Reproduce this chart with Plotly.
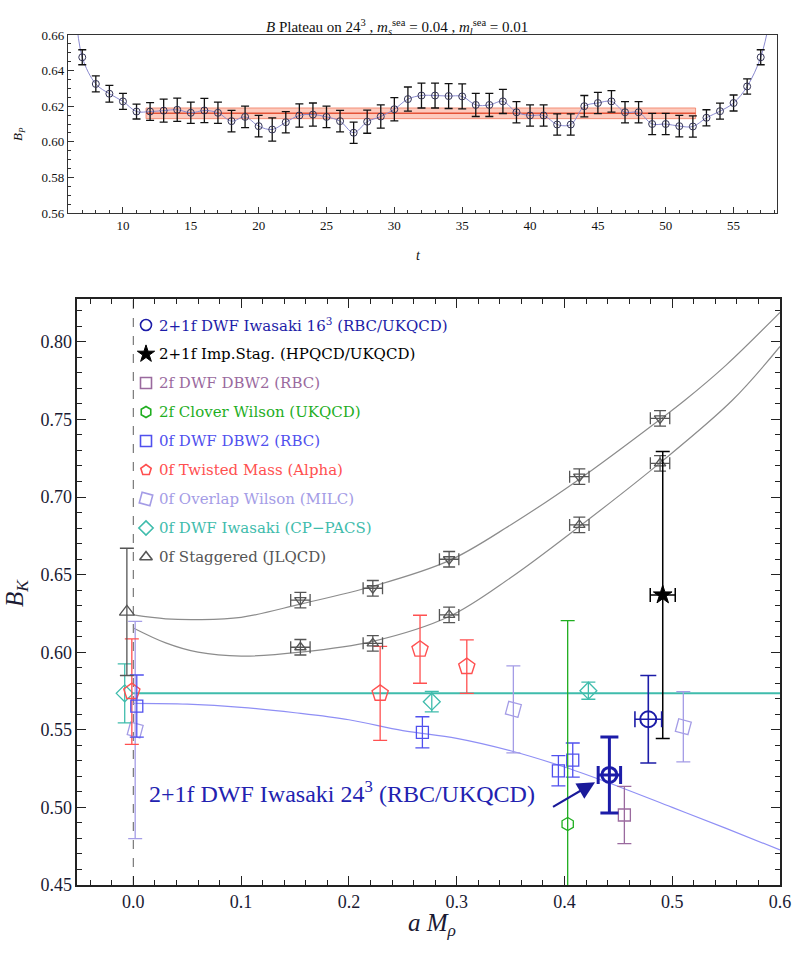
import plotly.graph_objects as go

W, H = 794, 963
SERIF = "Liberation Serif"

# ---------------- Top panel: B plateau ----------------
t_vals = list(range(7, 58))
bp_vals = [0.6475, 0.6325, 0.6270, 0.6227, 0.6170, 0.6170, 0.6175, 0.6180, 0.6163, 0.6176,
           0.6163, 0.6116, 0.6140, 0.6088, 0.6069, 0.6110, 0.6148, 0.6153, 0.6140, 0.6116,
           0.6051, 0.6113, 0.6142, 0.6183, 0.6240, 0.6260, 0.6260, 0.6257, 0.6255, 0.6207,
           0.6207, 0.6227, 0.6166, 0.6148, 0.6148, 0.6097, 0.6097, 0.6200, 0.6218, 0.6227,
           0.6166, 0.6166, 0.6100, 0.6100, 0.6088, 0.6086, 0.6135, 0.6172, 0.6218, 0.6311,
           0.6475]
bp_errs = [0.0042, 0.0045, 0.0047, 0.0045, 0.0042, 0.0050, 0.0065, 0.0065, 0.0060, 0.0068,
           0.0060, 0.0060, 0.0060, 0.0060, 0.0065, 0.0060, 0.0065, 0.0065, 0.0060, 0.0060,
           0.0060, 0.0065, 0.0065, 0.0065, 0.0068, 0.0070, 0.0070, 0.0070, 0.0070, 0.0065,
           0.0065, 0.0068, 0.0060, 0.0060, 0.0060, 0.0060, 0.0060, 0.0060, 0.0060, 0.0060,
           0.0060, 0.0060, 0.0060, 0.0060, 0.0060, 0.0060, 0.0045, 0.0045, 0.0045, 0.0043,
           0.0042]
curve_t = [6.5] + t_vals + [57.7]
curve_bp = [0.675] + bp_vals + [0.670]
plateau_t = [11.7, 52.2]
plateau_val = 0.6160
plateau_err = 0.0030

# ---------------- Bottom panel: B_K vs a M_rho ----------------
dwf16_x, dwf16_y, dwf16_ey, dwf16_ex = [0.4778], [0.5568], [0.0282], [0.0124]
dwf24_x, dwf24_y, dwf24_ey, dwf24_ex = [0.4417], [0.5209], [0.0245], [0.0104]
hpqcd_x, hpqcd_y, hpqcd_ey, hpqcd_ex = [0.4912], [0.6369], [0.0925], [0.0116]
dbw2f2_x, dbw2f2_y, dbw2f2_ey = [0.4556], [0.4951], [0.0185]
clover_x, clover_y, clover_ey = [0.4030], [0.4893], [0.1310]
dbw2f0_x = [0.0032, 0.2682, 0.3944, 0.4077]
dbw2f0_y = [0.5653, 0.5484, 0.5236, 0.5305]
dbw2f0_ey = [0.0200, 0.0100, 0.0097, 0.0110]
tm_x = [-0.0014, 0.2290, 0.2660, 0.3094]
tm_y = [0.5746, 0.5735, 0.6019, 0.5907]
tm_ey = [0.0340, 0.0303, 0.0219, 0.0172]
ov_x = [0.0017, 0.3526, 0.5103]
ov_y = [0.5499, 0.5632, 0.5520]
ov_ey = [0.0700, 0.0280, 0.0226]
cp_x = [-0.0080, 0.2769, 0.4222]
cp_y = [0.5735, 0.5681, 0.5752]
cp_ey = [0.0190, 0.0066, 0.0055]
stag_x = [0.1550, 0.2222, 0.2930, 0.4138, 0.4887]
stag_lo_y = [0.6032, 0.6057, 0.6240, 0.6820, 0.7217]
stag_hi_y = [0.6336, 0.6412, 0.6599, 0.7131, 0.7507]
stag_ey = [0.005, 0.005, 0.005, 0.005, 0.005]
stag_ex = [0.009, 0.009, 0.009, 0.009, 0.009]
stag0_x, stag0_y, stag0_ey = [-0.0060], [0.6260], [0.0410]

fit_hi_x = [0.0, 0.03, 0.06, 0.10, 0.155, 0.2222, 0.293, 0.35, 0.4138, 0.4887, 0.512, 0.55, 0.60]
fit_hi_y = [0.624, 0.6215, 0.621, 0.6225, 0.631, 0.6425, 0.659, 0.682, 0.7115, 0.750, 0.7625, 0.785, 0.819]
fit_lo_x = [0.0, 0.03, 0.06, 0.10, 0.155, 0.2222, 0.293, 0.35, 0.4138, 0.4887, 0.556, 0.60]
fit_lo_y = [0.6156, 0.606, 0.600, 0.5975, 0.600, 0.607, 0.623, 0.648, 0.681, 0.722, 0.7625, 0.797]
fit_dwf_x = [0.0, 0.05, 0.10, 0.15, 0.20, 0.25, 0.30, 0.35, 0.40, 0.45, 0.50, 0.55, 0.60]
fit_dwf_y = [0.567, 0.5665, 0.5645, 0.561, 0.5565, 0.5495, 0.5445, 0.5365, 0.526, 0.5135, 0.500, 0.4865, 0.4726]
fit_cp_x = [0.0, 0.6]
fit_cp_y = [0.5735, 0.5735]

legend_labels = [
    "2+1f DWF Iwasaki 16<sup>3</sup> (RBC/UKQCD)",
    "2+1f Imp.Stag. (HPQCD/UKQCD)",
    "2f DWF DBW2 (RBC)",
    "2f Clover Wilson (UKQCD)",
    "0f DWF DBW2 (RBC)",
    "0f Twisted Mass (Alpha)",
    "0f Overlap Wilson (MILC)",
    "0f DWF Iwasaki (CP\u2212PACS)",
    "0f Staggered (JLQCD)",
]

C_DB = "#1c1ca8"
C_BK = "#000000"
C_PU = "#9a6a9e"
C_GR = "#1fae1f"
C_BL = "#5050ee"
C_RD = "#ff5050"
C_LV = "#a49ce6"
C_TL = "#3fbcac"
C_GY = "#555555"
legend_colors = [C_DB, C_BK, C_PU, C_GR, C_BL, C_RD, C_LV, C_TL, C_GY]
legend_symbols = ["circle-open", "star", "square-open", "hexagon-open", "square-open",
                  "pentagon-open", "square-open", "diamond-open", "triangle-up-open"]

# bottom-panel geometry (pixels) for placing the legend symbols
X2_RANGE = [-0.052, 0.6]
Y2_RANGE = [0.45, 0.8274]
X2_PX = [77.3, 780.0]
Y2_PX = [885.0, 299.3]


def px_to_x2(px):
    return X2_RANGE[0] + (px - X2_PX[0]) / (X2_PX[1] - X2_PX[0]) * (X2_RANGE[1] - X2_RANGE[0])


def py_to_y2(py):
    return Y2_RANGE[0] + (py - Y2_PX[0]) / (Y2_PX[1] - Y2_PX[0]) * (Y2_RANGE[1] - Y2_RANGE[0])


fig = go.Figure()

# ----- top panel traces -----
fig.add_trace(go.Scatter(
    x=[plateau_t[0], plateau_t[1], plateau_t[1], plateau_t[0], plateau_t[0]],
    y=[plateau_val - plateau_err, plateau_val - plateau_err,
       plateau_val + plateau_err, plateau_val + plateau_err, plateau_val - plateau_err],
    fill="toself", fillcolor="rgba(250,140,110,0.45)", mode="lines",
    line=dict(color="rgba(240,110,80,0.7)", width=1), xaxis="x", yaxis="y", hoverinfo="skip"))
fig.add_trace(go.Scatter(x=plateau_t, y=[plateau_val, plateau_val], mode="lines",
                         line=dict(color="rgba(225,70,40,0.9)", width=1.4),
                         xaxis="x", yaxis="y"))
fig.add_trace(go.Scatter(x=curve_t, y=curve_bp, mode="lines",
                         line=dict(color="#8a8ad0", width=1, shape="spline"), xaxis="x", yaxis="y"))
fig.add_trace(go.Scatter(
    x=t_vals, y=bp_vals, mode="markers", xaxis="x", yaxis="y",
    marker=dict(symbol="circle-open", size=7, color="#333355", line=dict(width=1)),
    error_y=dict(type="data", array=bp_errs, color="#111111", thickness=1.3, width=4)))


def errpts(x, y, ey, color, symbol, size, ex=None, lw=1.3, thick=1.3, cap=7, fill=None, angle=0):
    d = dict(x=x, y=y, mode="markers", xaxis="x2", yaxis="y2",
             marker=dict(symbol=symbol, size=size, color=fill if fill else color, angle=angle,
                         line=dict(color=color, width=lw)),
             error_y=dict(type="data", array=ey, color=color, thickness=thick, width=cap))
    if ex is not None:
        d["error_x"] = dict(type="data", array=ex, color=color, thickness=thick, width=cap)
    fig.add_trace(go.Scatter(**d))


# fit curves
fig.add_trace(go.Scatter(x=fit_hi_x, y=fit_hi_y, mode="lines",
                         line=dict(color="#8c8c8c", width=1.2, shape="spline"), xaxis="x2", yaxis="y2"))
fig.add_trace(go.Scatter(x=fit_lo_x, y=fit_lo_y, mode="lines",
                         line=dict(color="#8c8c8c", width=1.2, shape="spline"), xaxis="x2", yaxis="y2"))
fig.add_trace(go.Scatter(x=fit_dwf_x, y=fit_dwf_y, mode="lines",
                         line=dict(color="#8f8ff5", width=1.2, shape="spline"), xaxis="x2", yaxis="y2"))
fig.add_trace(go.Scatter(x=fit_cp_x, y=fit_cp_y, mode="lines",
                         line=dict(color=C_TL, width=2), xaxis="x2", yaxis="y2"))

errpts(ov_x, ov_y, ov_ey, C_LV, "square-open", 13, angle=15)
errpts(cp_x, cp_y, cp_ey, C_TL, "diamond-open", 13)
errpts(tm_x, tm_y, tm_ey, C_RD, "pentagon-open", 17, lw=1.4)
errpts(dbw2f0_x, dbw2f0_y, dbw2f0_ey, C_BL, "square-open", 12)
errpts(clover_x, clover_y, clover_ey, C_GR, "hexagon-open", 13)
errpts(dbw2f2_x, dbw2f2_y, dbw2f2_ey, C_PU, "square-open", 12)
errpts(stag0_x, stag0_y, stag0_ey, C_GY, "triangle-up-open", 13)
errpts(stag_x, stag_lo_y, stag_ey, C_GY, "triangle-up-open", 10, ex=stag_ex, cap=6)
errpts(stag_x, stag_hi_y, stag_ey, C_GY, "triangle-down-open", 10, ex=stag_ex, cap=6)
errpts(hpqcd_x, hpqcd_y, hpqcd_ey, C_BK, "star", 14, ex=hpqcd_ex, lw=1, thick=1.5, fill=C_BK)
errpts(dwf16_x, dwf16_y, dwf16_ey, C_DB, "circle-open", 16, ex=dwf16_ex, lw=2, thick=1.6, cap=8)
errpts(dwf24_x, dwf24_y, dwf24_ey, C_DB, "circle-open", 15, ex=dwf24_ex, lw=3, thick=3, cap=9)

# legend symbols
leg_px_x = 146
leg_rows = [325 + 29 * i for i in range(9)]
for i in range(9):
    fig.add_trace(go.Scatter(
        x=[px_to_x2(leg_px_x)], y=[py_to_y2(leg_rows[i])], mode="markers", xaxis="x2", yaxis="y2",
        marker=dict(symbol=legend_symbols[i], size=11 if i != 1 else 13,
                    color=legend_colors[i], angle=15 if i == 6 else 0,
                    line=dict(color=legend_colors[i], width=1.6 if i != 1 else 1))))

annotations = []
for i in range(9):
    annotations.append(dict(
        x=157 / W, y=1 - leg_rows[i] / H, xref="paper", yref="paper",
        xanchor="left", yanchor="middle", showarrow=False,
        text=legend_labels[i], font=dict(family="DejaVu Serif", size=15, color=legend_colors[i])))

annotations += [
    dict(x=0.5, y=1 - 15 / H, xref="paper", yref="paper", showarrow=False,
         text="<i>B</i> Plateau on 24<sup>3</sup> , <i>m</i><sub><i>s</i></sub><sup>sea</sup> = 0.04 , <i>m</i><sub><i>l</i></sub><sup>sea</sup> = 0.01",
         font=dict(family=SERIF, size=15, color="#111111")),
    dict(x=18 / W, y=1 - 125 / H, xref="paper", yref="paper", showarrow=False, textangle=-90,
         xanchor="center", text="<i>B<sub>P</sub></i>", font=dict(family=SERIF, size=13, color="#111111")),
    dict(x=418 / W, y=1 - 246 / H, xref="paper", yref="paper", showarrow=False,
         text="<i>t</i>", font=dict(family=SERIF, size=14, color="#111111")),
    dict(x=432 / W, y=1 - 942 / H, xref="paper", yref="paper", showarrow=False,
         text="<i>a M</i><sub><i>\u03c1</i></sub>", font=dict(family=SERIF, size=25, color="#1a1a33")),
    dict(x=16 / W, y=1 - 593 / H, xref="paper", yref="paper", showarrow=False, textangle=-90,
         xanchor="center", text="<i>B</i><sub><i>K</i></sub>",
         font=dict(family=SERIF, size=25, color="#1a1a33")),
    dict(x=147 / W, y=1 - 809 / H, xref="paper", yref="paper", xanchor="left", showarrow=False,
         text="2+1f DWF Iwasaki 24<sup>3</sup> (RBC/UKQCD)",
         font=dict(family=SERIF, size=24, color="#2222b0")),
    dict(x=0.4284, y=0.5162, xref="x2", yref="y2", ax=0.388, ay=0.4998, axref="x2", ayref="y2",
         showarrow=True, arrowhead=2, arrowsize=1.6, arrowwidth=2.2, arrowcolor="#1a1a9a",
         text="", standoff=0),
]

shapes = [
    dict(type="line", xref="x2", yref="y2", x0=0, x1=0, y0=Y2_RANGE[0], y1=Y2_RANGE[1],
         line=dict(color="#777777", width=1.2, dash="dash"), layer="below"),
]

tickfont_top = dict(family=SERIF, size=13, color="#111111")
tickfont_bot = dict(family=SERIF, size=18, color="#1a1a33")

fig.update_layout(
    width=W, height=H, margin=dict(l=0, r=0, t=0, b=0, autoexpand=False),
    paper_bgcolor="white", plot_bgcolor="white", showlegend=False,
    annotations=annotations, shapes=shapes,
    xaxis=dict(domain=[68 / W, 777 / W], range=[5.95, 58.2], anchor="y",
               showline=True, linecolor="#333333", linewidth=1.2, mirror=True,
               ticks="inside", ticklen=6, tickcolor="#333333", tickvals=list(range(10, 60, 5)),
               minor=dict(dtick=1, ticks="inside", ticklen=3, tickcolor="#333333"),
               showgrid=False, zeroline=False, tickfont=tickfont_top),
    yaxis=dict(domain=[1 - 213 / H, 1 - 35 / H], range=[0.56, 0.66], anchor="x",
               showline=True, linecolor="#333333", linewidth=1.2, mirror=True,
               ticks="inside", ticklen=6, tickcolor="#333333", tick0=0.56, dtick=0.02,
               tickformat=".2f",
               minor=dict(dtick=0.005, ticks="inside", ticklen=3, tickcolor="#333333"),
               showgrid=False, zeroline=False, tickfont=tickfont_top),
    xaxis2=dict(domain=[X2_PX[0] / W, X2_PX[1] / W], range=X2_RANGE, anchor="y2",
                showline=True, linecolor="#222222", linewidth=1.5, mirror="allticks",
                ticks="inside", ticklen=9, tickwidth=1.3, tickcolor="#222222",
                tick0=0, dtick=0.1, tickformat=".1f",
                minor=dict(dtick=0.02, ticks="inside", ticklen=5, tickcolor="#222222"),
                showgrid=False, zeroline=False, tickfont=tickfont_bot),
    yaxis2=dict(domain=[1 - Y2_PX[0] / H, 1 - Y2_PX[1] / H], range=Y2_RANGE, anchor="x2",
                showline=True, linecolor="#222222", linewidth=1.5, mirror="allticks",
                ticks="inside", ticklen=9, tickwidth=1.3, tickcolor="#222222",
                tick0=0.45, dtick=0.05, tickformat=".2f",
                minor=dict(dtick=0.01, ticks="inside", ticklen=5, tickcolor="#222222"),
                showgrid=False, zeroline=False, tickfont=tickfont_bot),
)

fig.write_html("out.html", config={"displayModeBar": False},
               post_script="document.body.style.margin='0';")
